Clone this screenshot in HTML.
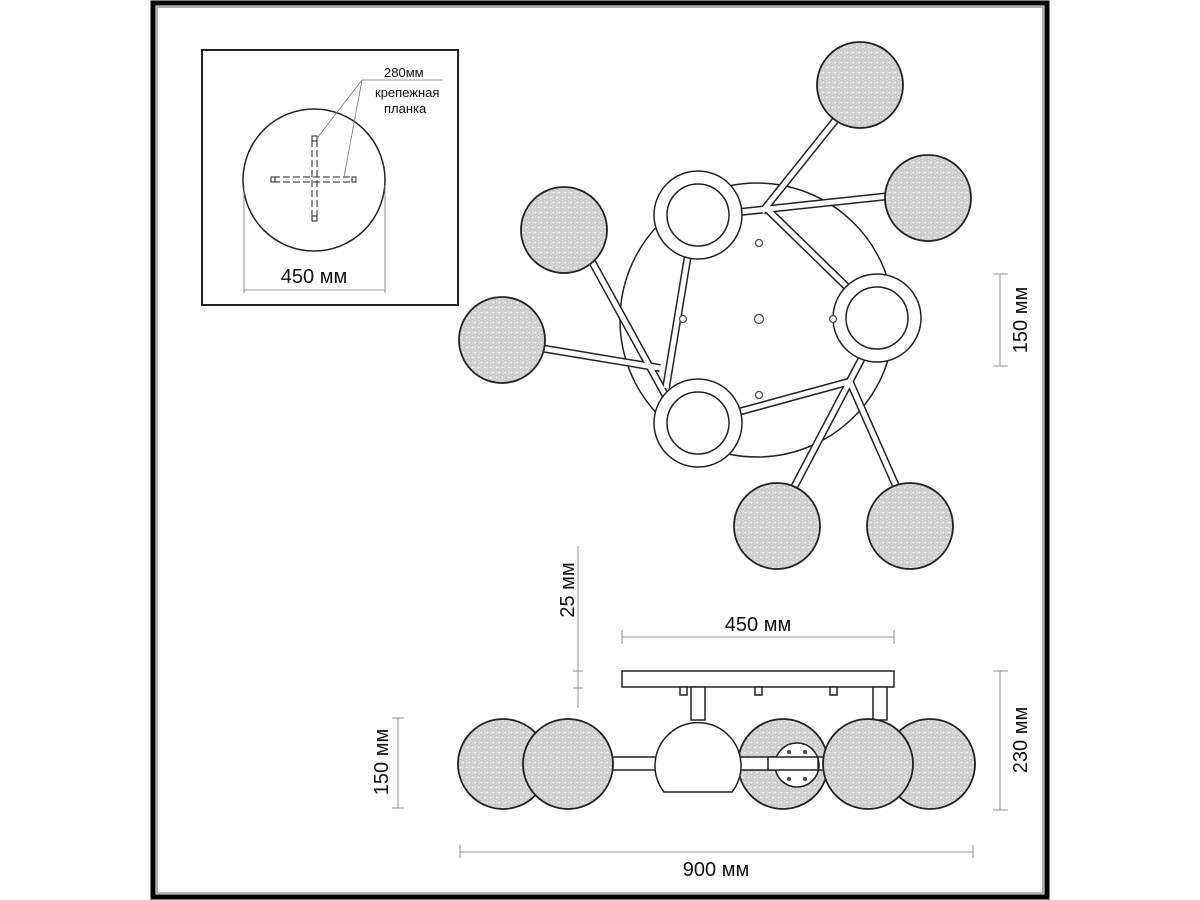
<!DOCTYPE html>
<html><head><meta charset="utf-8"><style>
html,body{margin:0;padding:0;background:#fff;}
svg{display:block;}
text{font-family:"Liberation Sans",sans-serif;fill:#111;}
</style></head><body>
<svg width="1200" height="900" viewBox="0 0 1200 900" xmlns="http://www.w3.org/2000/svg">
<defs>
<pattern id="dots" width="6" height="10" patternUnits="userSpaceOnUse">
<rect width="6" height="10" fill="#d6d6d6"/>
<circle cx="1.5" cy="2.5" r="1.7" fill="#f2f2f2" stroke="#a8a8a8" stroke-width="0.6"/>
<circle cx="4.5" cy="7.5" r="1.7" fill="#f2f2f2" stroke="#a8a8a8" stroke-width="0.6"/>
</pattern>
</defs>
<rect x="153" y="3" width="894" height="894" fill="none" stroke="#000" stroke-width="5"/>
<rect x="157" y="7" width="886" height="886" fill="none" stroke="#999" stroke-width="1.5"/>

<rect x="202" y="50" width="256" height="255" fill="#fff" stroke="#222" stroke-width="2"/>
<circle cx="314" cy="180" r="71" fill="#fff" stroke="#222" stroke-width="1.5"/>
<g stroke="#222" stroke-width="1" stroke-dasharray="7,3" fill="none">
<line x1="312" y1="140" x2="312" y2="218"/><line x1="317" y1="140" x2="317" y2="218"/>
<line x1="273" y1="177" x2="355" y2="177"/><line x1="273" y1="182" x2="355" y2="182"/>
</g>
<g fill="#fff" stroke="#222" stroke-width="1">
<rect x="312" y="136" width="5" height="5"/><rect x="312" y="216" width="5" height="5"/>
<rect x="271" y="177" width="4" height="5"/><rect x="352" y="177" width="4" height="5"/>
</g>
<g stroke="#777" stroke-width="0.8" fill="none">
<line x1="318" y1="137" x2="362" y2="80"/><line x1="344" y1="177" x2="362" y2="80"/>
<line x1="362" y1="80" x2="442" y2="80"/>
<line x1="244" y1="185" x2="244" y2="293"/><line x1="385" y1="185" x2="385" y2="293"/>
<line x1="244" y1="290" x2="385" y2="290"/>
</g>
<text x="384" y="77" font-size="13">280мм</text>
<text x="375" y="97" font-size="13">крепежная</text>
<text x="384" y="113" font-size="13">планка</text>
<text x="314" y="283" font-size="20" text-anchor="middle">450 мм</text>

<circle cx="757" cy="320" r="137" fill="#fff" stroke="#222" stroke-width="1.5"/>
<g stroke-linecap="butt">
<g stroke="#222" stroke-width="8">
<line x1="590" y1="258" x2="668" y2="400"/>
<line x1="540" y1="348" x2="660" y2="368"/>
<line x1="688" y1="255" x2="666" y2="388"/>
<line x1="740" y1="212" x2="890" y2="196"/>
<line x1="842" y1="112" x2="762" y2="212"/>
<line x1="768" y1="210" x2="850" y2="290"/>
<line x1="738" y1="412" x2="848" y2="382"/>
<line x1="862" y1="358" x2="790" y2="495"/>
<line x1="850" y1="382" x2="900" y2="495"/>
</g>
<g stroke="#fff" stroke-width="5">
<line x1="590" y1="258" x2="668" y2="400"/>
<line x1="540" y1="348" x2="660" y2="368"/>
<line x1="688" y1="255" x2="666" y2="388"/>
<line x1="740" y1="212" x2="890" y2="196"/>
<line x1="842" y1="112" x2="762" y2="212"/>
<line x1="768" y1="210" x2="850" y2="290"/>
<line x1="738" y1="412" x2="848" y2="382"/>
<line x1="862" y1="358" x2="790" y2="495"/>
<line x1="850" y1="382" x2="900" y2="495"/>
</g>
</g>
<g fill="#fff" stroke="#222" stroke-width="1.5">
<circle cx="698" cy="215" r="44"/><circle cx="877" cy="318" r="44"/><circle cx="698" cy="423" r="44"/>
<circle cx="698" cy="215" r="31"/><circle cx="877" cy="318" r="31"/><circle cx="698" cy="423" r="31"/>
</g>
<g fill="#fff" stroke="#444" stroke-width="1.2">
<circle cx="759" cy="243" r="3.5"/><circle cx="683" cy="319" r="3.5"/><circle cx="759" cy="319" r="4.5"/>
<circle cx="833" cy="319" r="3.5"/><circle cx="759" cy="395" r="3.5"/>
</g>
<g fill="url(#dots)" stroke="#222" stroke-width="1.8">
<circle cx="860" cy="85" r="43"/>
<circle cx="928" cy="198" r="43"/>
<circle cx="564" cy="230" r="43"/>
<circle cx="502" cy="340" r="43"/>
<circle cx="777" cy="526" r="43"/>
<circle cx="910" cy="526" r="43"/>
</g>
<g stroke="#777" stroke-width="0.8">
<line x1="1000" y1="274" x2="1000" y2="366"/>
<line x1="993" y1="274" x2="1008" y2="274"/><line x1="993" y1="366" x2="1008" y2="366"/>
</g>
<text transform="translate(1027,320) rotate(-90)" font-size="20" text-anchor="middle">150 мм</text>

<g stroke="#777" stroke-width="0.8">
<line x1="622" y1="637" x2="894" y2="637"/>
<line x1="622" y1="630" x2="622" y2="644"/><line x1="894" y1="630" x2="894" y2="644"/>
<line x1="578" y1="546" x2="578" y2="708"/>
<line x1="573" y1="671" x2="583" y2="671"/><line x1="573" y1="688" x2="583" y2="688"/>
<line x1="460" y1="852" x2="973" y2="852"/>
<line x1="460" y1="845" x2="460" y2="858"/><line x1="973" y1="845" x2="973" y2="858"/>
<line x1="398" y1="718" x2="398" y2="808"/>
<line x1="392" y1="718" x2="404" y2="718"/><line x1="392" y1="808" x2="404" y2="808"/>
<line x1="1000" y1="671" x2="1000" y2="810"/>
<line x1="993" y1="671" x2="1008" y2="671"/><line x1="993" y1="810" x2="1008" y2="810"/>
</g>
<text x="758" y="631" font-size="20" text-anchor="middle">450 мм</text>
<text x="716" y="876" font-size="20" text-anchor="middle">900 мм</text>
<text transform="translate(574,590) rotate(-90)" font-size="20" text-anchor="middle">25 мм</text>
<text transform="translate(388,762) rotate(-90)" font-size="20" text-anchor="middle">150 мм</text>
<text transform="translate(1027,740) rotate(-90)" font-size="20" text-anchor="middle">230 мм</text>

<g fill="#fff" stroke="#222" stroke-width="1.5">
<rect x="622" y="671" width="272" height="16"/>
<rect x="680" y="687" width="7" height="8"/><rect x="755" y="687" width="7" height="8"/><rect x="830" y="687" width="7" height="8"/>
<rect x="691" y="687" width="14" height="33"/><rect x="873" y="687" width="14" height="33"/>
</g>
<g fill="url(#dots)" stroke="#222" stroke-width="1.8">
<circle cx="930" cy="764" r="45"/>
<circle cx="783" cy="764" r="45"/>
</g>
<rect x="545" y="757" width="315" height="13" fill="#fff" stroke="#222" stroke-width="1.5"/>
<path d="M664 792 A43 43 0 1 1 732 792 Z" fill="#fff" stroke="#222" stroke-width="1.5"/>
<circle cx="797" cy="765" r="22" fill="#fff" stroke="#222" stroke-width="1.5"/>
<g fill="#444"><circle cx="789" cy="752" r="2"/><circle cx="805" cy="752" r="2"/><circle cx="789" cy="779" r="2"/><circle cx="805" cy="779" r="2"/></g>
<rect x="768" y="757" width="50" height="13" fill="#fff" stroke="#222" stroke-width="1.5"/>
<g fill="url(#dots)" stroke="#222" stroke-width="1.8">
<circle cx="503" cy="764" r="45"/>
<circle cx="568" cy="764" r="45"/>
<circle cx="868" cy="764" r="45"/>
</g>
</svg>
</body></html>
